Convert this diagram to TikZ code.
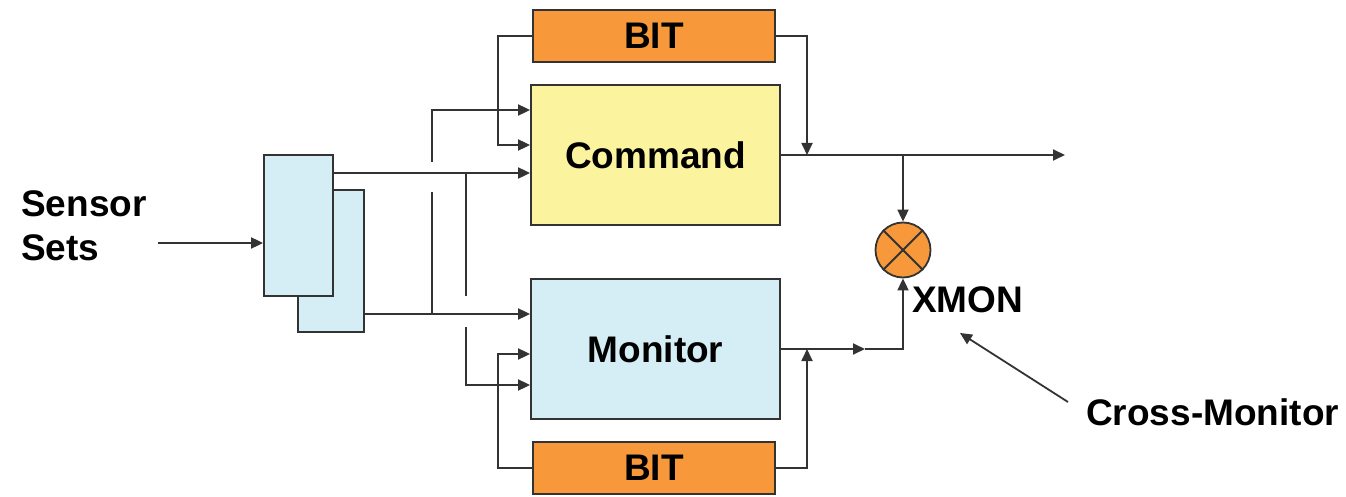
\documentclass[tikz,border=0pt]{standalone}
\usepackage{fontspec}
\setmainfont{Liberation Sans}
\usetikzlibrary{arrows.meta}
\definecolor{bitorange}{HTML}{F7993A}
\definecolor{cmdyellow}{HTML}{FBF39D}
\definecolor{monblue}{HTML}{D5EDF4}
\definecolor{edgegrey}{HTML}{333333}
\tikzset{
  lbl/.style={font=\fontsize{37}{43}\selectfont\bfseries, text=black, inner sep=0pt},
  blk/.style={draw=edgegrey, line width=1.8pt, inner sep=0pt, lbl},
  wire/.style={draw=edgegrey, line width=1.8pt},
  arr/.style={wire, -{Triangle[length=12pt,width=11pt]}},
}
\begin{document}
\begin{tikzpicture}[x=1pt,y=-1pt]
\useasboundingbox (0,0) rectangle (1346,497);
% blocks
\node[blk, fill=bitorange, minimum width=242pt, minimum height=52pt] (bitT) at (654,36) {BIT};
\node[blk, fill=cmdyellow, minimum width=249pt, minimum height=140pt] (cmd) at (655.5,155) {Command};
\node[blk, fill=monblue, minimum width=249pt, minimum height=140pt] (mon) at (655.5,349) {Monitor};
\node[blk, fill=bitorange, minimum width=242pt, minimum height=52pt] (bitB) at (654,468) {BIT};
\node[blk, fill=monblue, minimum width=66pt, minimum height=142pt] (sensB) at (331,261) {};
\node[blk, fill=monblue, minimum width=69pt, minimum height=141pt] (sensF) at (298.5,225.5) {};
\node[draw=edgegrey, line width=1.8pt, fill=bitorange, circle, minimum size=55pt, inner sep=0pt] (xmon) at (903,250) {};
\draw[wire] (xmon.45) -- (xmon.225);
\draw[wire] (xmon.135) -- (xmon.315);
% labels
\node[lbl, anchor=base west] (tSensor) at (21,217) {Sensor};
\node[lbl, anchor=base west] (tSets) at (21,260) {Sets};
\node[lbl, anchor=base west] (tXmon) at (912,312) {XMON};
\node[lbl, anchor=base west] (tCross) at (1086,425) {Cross-Monitor};
% coordinates
\coordinate (ssIn) at (158,243);
\coordinate (out) at (1065,155);
\coordinate (cj) at (903,155);
\coordinate (mj) at (865,349);
\coordinate (cmTail) at (1068,402);
\coordinate (cmTip) at (960,333);
% sensor input
\draw[arr] (ssIn) -- (sensF.west |- ssIn);
% sensor to command / monitor
\draw[arr] (sensF.east |- 0,173) -- (cmd.west |- 0,173);
\draw[arr] (sensB.east |- 0,314) -- (mon.west |- 0,314);
% cross feeds with gaps
\draw[wire] (432,314) -- (432,192);
\draw[arr] (432,162) -- (432,110) -- (cmd.west |- 0,110);
\draw[wire] (466,173) -- (466,296);
\draw[arr] (466,327) -- (466,385) -- (mon.west |- 0,385);
% BIT loops on the left
\draw[arr] (bitT.west) -- (498,36) -- (498,145) -- (cmd.west |- 0,145);
\draw[arr] (bitB.west) -- (498,468) -- (498,354) -- (mon.west |- 0,354);
% command output
\draw[arr] (cmd.east) -- (out);
\draw[arr] (bitT.east) -| (cmd.east -| 807,0);
\draw[arr] (cj) -- (xmon.north);
% monitor output
\draw[arr] (mon.east) -- (mj);
\draw[arr] (mj) -| (xmon.south);
\draw[arr] (bitB.east) -| (mon.east -| 807,0);
% cross-monitor pointer
\draw[arr] (cmTail) -- (cmTip);
\end{tikzpicture}
\end{document}
